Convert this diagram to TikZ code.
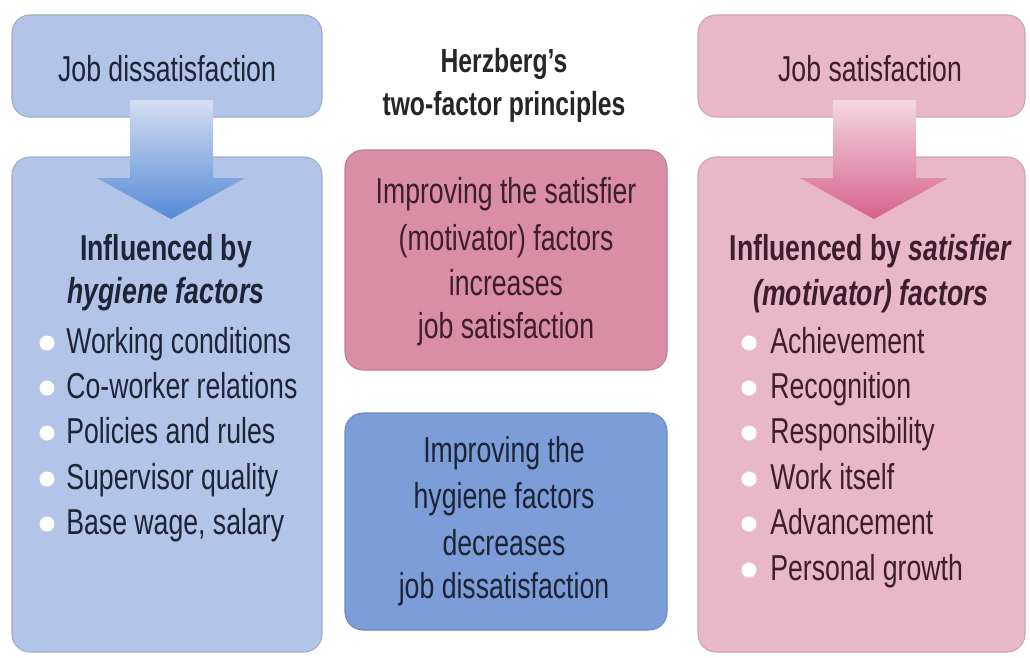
\documentclass[tikz,border=0pt]{standalone}
\usepackage{fontspec}
\setmainfont{Liberation Sans}[FakeStretch=0.74]
\usepackage{tikz}

\definecolor{hygbg}{RGB}{178,196,232}
\definecolor{hygdark}{RGB}{124,157,216}
\definecolor{hygarrow}{RGB}{84,138,214}
\definecolor{motbg}{RGB}{233,184,200}
\definecolor{motdark}{RGB}{217,142,166}
\definecolor{motarrow}{RGB}{214,98,140}
\definecolor{navytext}{RGB}{28,36,54}
\definecolor{maroontext}{RGB}{62,30,44}

\begin{document}
\begin{tikzpicture}[x=0.02cm,y=-0.02cm,
  every node/.style={font=\fontsize{20.5}{25.5}\selectfont, inner sep=0pt, anchor=base},
  panel/.style={rounded corners=0.36cm, draw=#1!88!black, line width=0.6pt, fill=#1},
  item/.style={anchor=base west},
  headfont/.style={font=\bfseries\fontsize{20.5}{25.5}\selectfont}]

\useasboundingbox (0,0) rectangle (1030,657);

% left column: dissatisfaction
\draw[panel=hygbg] (12,15) rectangle (322,117);
\draw[panel=hygbg] (12,157) rectangle (322,652);
\shade[top color=hygbg!55!white, bottom color=hygarrow]
  (130,100) -- (213,100) -- (213,178) -- (245,178) -- (171,219)
  -- (97,178) -- (130,178) -- cycle;

% right column: satisfaction
\draw[panel=motbg] (698,15) rectangle (1025,117);
\draw[panel=motbg] (698,157) rectangle (1025,652);
\shade[top color=motbg!55!white, bottom color=motarrow]
  (833,100) -- (916,100) -- (916,178) -- (948,178) -- (874,219)
  -- (800,178) -- (833,178) -- cycle;

% middle boxes
\draw[panel=motdark] (345,150) rectangle (667,370);
\draw[panel=hygdark] (345,413) rectangle (667,630);

% top labels
\node[text=navytext] (dissat) at (167,81) {Job dissatisfaction};
\node[text=maroontext] (sat) at (870,81) {Job satisfaction};

% title
\node[text=black!85, font=\bfseries\fontsize{19}{23}\selectfont] (title) at (504,72) {Herzberg's};
\node[text=black!85, font=\bfseries\fontsize{19}{23}\selectfont] (subtitle) at (504,115) {two-factor principles};

% satisfier principle
\node[text=maroontext] (mot1) at (506,203) {Improving the satisfier};
\node[text=maroontext] (mot2) at (506,250) {(motivator) factors};
\node[text=maroontext] (mot3) at (506,295) {increases};
\node[text=maroontext] (mot4) at (506,338) {job satisfaction};

% hygiene principle
\node[text=navytext] (hyg1) at (504,462) {Improving the};
\node[text=navytext] (hyg2) at (504,508) {hygiene factors};
\node[text=navytext] (hyg3) at (504,555) {decreases};
\node[text=navytext] (hyg4) at (504,598) {job dissatisfaction};

% hygiene factors list
\node[headfont, text=navytext] (lhead1) at (166,260) {Influenced by};
\node[headfont, text=navytext] (lhead2) at (166,303) {\itshape hygiene factors};
\fill[white] (47,343) circle (7.5) (47,388) circle (7.5) (47,433) circle (7.5)
  (47,479) circle (7.5) (47,524) circle (7.5);
\node[item, text=navytext] (l1) at (66,353) {Working conditions};
\node[item, text=navytext] (l2) at (66,398) {Co-worker relations};
\node[item, text=navytext] (l3) at (66,443) {Policies and rules};
\node[item, text=navytext] (l4) at (66,489) {Supervisor quality};
\node[item, text=navytext] (l5) at (66,534) {Base wage, salary};

% motivator factors list
\node[headfont, text=maroontext] (rhead1) at (871,260) {Influenced by \textit{satisfier}};
\node[headfont, text=maroontext] (rhead2) at (871,305) {\itshape (motivator) factors};
\fill[white] (749,343) circle (7.5) (749,388) circle (7.5) (749,433) circle (7.5)
  (749,479) circle (7.5) (749,524) circle (7.5) (749,570) circle (7.5);
\node[item, text=maroontext] (r1) at (770,353) {Achievement};
\node[item, text=maroontext] (r2) at (770,398) {Recognition};
\node[item, text=maroontext] (r3) at (770,443) {Responsibility};
\node[item, text=maroontext] (r4) at (770,489) {Work itself};
\node[item, text=maroontext] (r5) at (770,534) {Advancement};
\node[item, text=maroontext] (r6) at (770,580) {Personal growth};

\end{tikzpicture}
\end{document}
